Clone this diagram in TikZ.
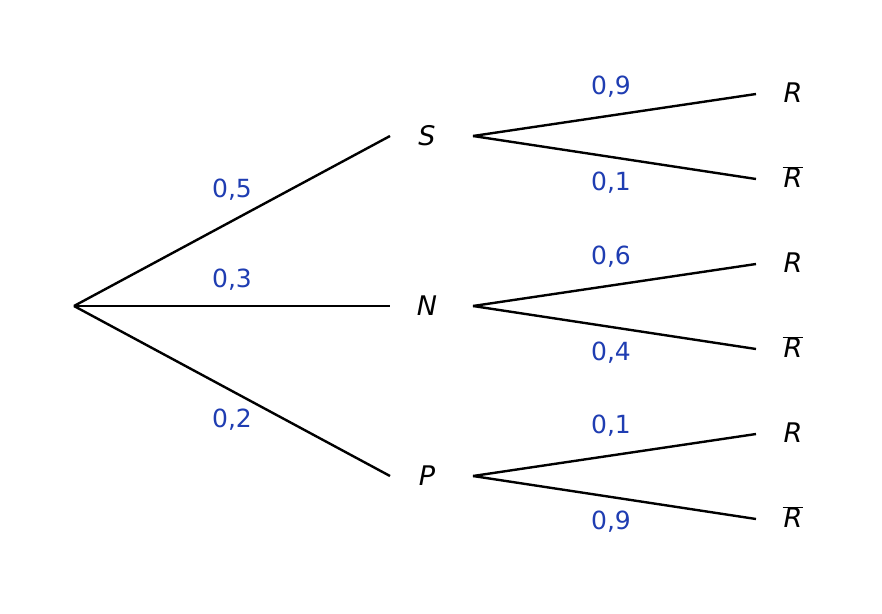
\documentclass[tikz,border=0pt]{standalone}
\usepackage{fontspec}
\setmainfont{DejaVu Sans}
\definecolor{probblue}{RGB}{31,61,178}
\tikzset{every picture/.style={line width=2.4pt}}
\tikzset{branch/.style={draw=black},
  prob/.style={text=probblue,font=\fontsize{25}{28}\selectfont,inner sep=0pt},
  event/.style={font=\fontsize{27}{30}\selectfont\itshape,inner sep=0pt}}

\begin{document}
\begin{tikzpicture}[x=1pt,y=1pt,yscale=-1,xscale=1]
\useasboundingbox (0,0) rectangle (882,613);

% root
\coordinate (root) at (74,306);
% first level
\foreach \name/\y in {S/136,N/306,P/476}{
  \coordinate (end\name) at (390,\y);
  \coordinate (start\name) at (473,\y);
  \node [event] (\name) at (427,\y) {\name};
  \draw [branch] (root) -- (end\name);
  \coordinate (r\name) at (756,\y-42);
  \coordinate (rb\name) at (756,\y+43);
  \node [event] (R\name) at (793,\y-43) {R};
  \node [event] (Rb\name) at (793,\y+41) {$\overline{\mbox{\hspace{1pt}\itshape R\hspace{1pt}}}$};
  \draw [branch] (start\name) -- (r\name);
  \draw [branch] (start\name) -- (rb\name);
}

% probabilities
\node [prob] at (232,190) {0,5};
\node [prob] at (232,280) {0,3};
\node [prob] at (232,420) {0,2};
\node [prob] at (611,87) {0,9};
\node [prob] at (611,183) {0,1};
\node [prob] at (611,257) {0,6};
\node [prob] at (611,353) {0,4};
\node [prob] at (611,426) {0,1};
\node [prob] at (611,522) {0,9};

\end{tikzpicture}
\end{document}
